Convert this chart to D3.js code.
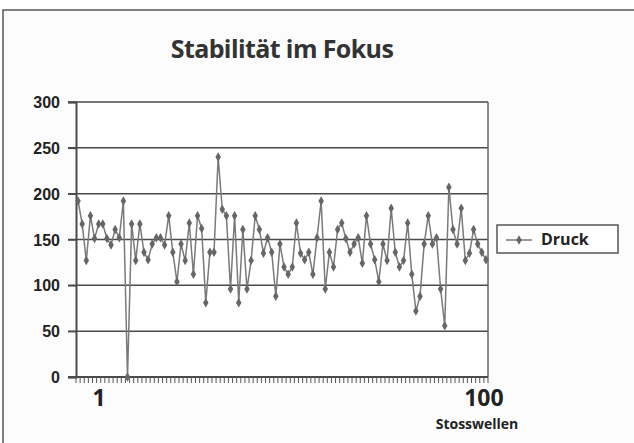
<!DOCTYPE html>
<html>
<head>
<meta charset="utf-8">
<script src="https://cdn.jsdelivr.net/npm/d3@7"></script>
<style>
  body { margin: 0; background: #fff; }
  svg { display: block; font-family: "Open Sans", "Noto Sans", sans-serif; }
</style>
</head>
<body>
<svg id="chart" width="634" height="443"></svg>
<script>
// Druck values, one per Stosswelle (1..100)
const druck = [
  192, 167, 127, 176, 151, 167, 167, 151, 144, 161,
  152, 192, 0, 167, 127, 167, 136, 128, 145, 152,
  152, 144, 176, 136, 104, 145, 127, 168, 112, 176,
  162, 81, 136, 136, 240, 183, 176, 96, 176, 81,
  161, 96, 127, 176, 161, 135, 152, 136, 88, 145,
  120, 112, 120, 168, 135, 128, 136, 112, 152, 192,
  96, 136, 120, 161, 168, 151, 136, 145, 152, 124,
  176, 145, 128, 104, 145, 127, 184, 136, 120, 127,
  168, 112, 72, 88, 145, 176, 145, 152, 96, 56,
  207, 161, 145, 184, 127, 135, 161, 145, 136, 128
];
const categories = druck.map((d, i) => i + 1);
const yTicks = [0, 50, 100, 150, 200, 250, 300];
const xTickLabels = [1, 100];
const seriesName = "Druck";

const svg = d3.select("#chart");
const W = 634, H = 443;
const plot = { left: 76, right: 488, top: 102, bottom: 377 };

// outer frame
svg.append("rect")
  .attr("x", 3).attr("y", 10)
  .attr("width", W + 10).attr("height", H + 10)
  .style("fill", "#fcfcfc")
  .style("stroke", "#555")
  .style("stroke-width", "1.5px");

// title
svg.append("text")
  .attr("x", 282).attr("y", 58)
  .attr("text-anchor", "middle")
  .style("font-size", "25px")
  .style("font-weight", "bold")
  .style("letter-spacing", "-0.6px")
  .style("fill", "#333")
  .text("Stabilität im Fokus");

const x = d3.scalePoint()
  .domain(categories)
  .range([plot.left, plot.right])
  .padding(0.5);
const step = x.step();

const y = d3.scaleLinear()
  .domain([0, 300])
  .range([plot.bottom, plot.top]);

// plot background
svg.append("rect")
  .attr("x", plot.left).attr("y", plot.top)
  .attr("width", plot.right - plot.left)
  .attr("height", plot.bottom - plot.top)
  .style("fill", "#fff");

// gridlines
svg.append("g")
  .selectAll("line")
  .data(yTicks)
  .join("line")
  .attr("x1", plot.left - 8).attr("x2", plot.right)
  .attr("y1", d => y(d)).attr("y2", d => y(d))
  .style("stroke", "#4a4a4a")
  .style("stroke-width", "1.5px");

// right border
svg.append("line")
  .attr("x1", plot.right).attr("x2", plot.right)
  .attr("y1", plot.top).attr("y2", plot.bottom)
  .style("stroke", "#666")
  .style("stroke-width", "1.5px");

// y axis
const yAxis = svg.append("g")
  .attr("transform", `translate(${plot.left},0)`)
  .call(d3.axisLeft(y).tickValues(yTicks).tickSize(8).tickPadding(8));
yAxis.select(".domain").style("stroke", "#4a4a4a").style("stroke-width", "2px");
yAxis.selectAll(".tick line").style("stroke", "#4a4a4a").style("stroke-width", "1.5px");
yAxis.selectAll("text")
  .style("font-size", "16px")
  .style("font-weight", "bold")
  .style("fill", "#222")
  .attr("dy", "0.35em");

// x axis: small ticks at category boundaries
const boundaries = d3.range(categories.length + 1).map(i => plot.left + i * step);
svg.append("line")
  .attr("x1", plot.left - 8).attr("x2", plot.right)
  .attr("y1", plot.bottom).attr("y2", plot.bottom)
  .style("stroke", "#4a4a4a")
  .style("stroke-width", "2px");
svg.append("g")
  .selectAll("line")
  .data(boundaries)
  .join("line")
  .attr("x1", d => d).attr("x2", d => d)
  .attr("y1", plot.bottom).attr("y2", plot.bottom + 6)
  .style("stroke", "#555")
  .style("stroke-width", "1px");

// x tick labels
svg.append("g")
  .selectAll("text")
  .data(xTickLabels)
  .join("text")
  .attr("x", d => d === 1 ? x(d) + 21 : x(d) - 2)
  .attr("y", 406)
  .attr("text-anchor", "middle")
  .style("font-size", "23px")
  .style("font-weight", "bold")
  .style("fill", "#222")
  .text(d => d);

// x axis title
svg.append("text")
  .attr("x", 477).attr("y", 429)
  .attr("text-anchor", "middle")
  .style("font-size", "14px")
  .style("font-weight", "bold")
  .style("fill", "#222")
  .text("Stosswellen");

// series line
const line = d3.line()
  .x((d, i) => x(categories[i]))
  .y(d => y(d));

svg.append("path")
  .datum(druck)
  .attr("d", line)
  .style("fill", "none")
  .style("stroke", "#7a7a7a")
  .style("stroke-width", "1.5px");

const diamond = d3.symbol().type(d3.symbolDiamond).size(26);
svg.append("g")
  .selectAll("path")
  .data(druck)
  .join("path")
  .attr("transform", (d, i) => `translate(${x(categories[i])},${y(d)})`)
  .attr("d", diamond)
  .style("fill", "#666");

// legend
const lg = svg.append("g").attr("transform", "translate(497,225)");
lg.append("rect")
  .attr("width", 121).attr("height", 28)
  .style("fill", "#fff")
  .style("stroke", "#555")
  .style("stroke-width", "1.5px");
lg.append("line")
  .attr("x1", 9).attr("x2", 35)
  .attr("y1", 15).attr("y2", 15)
  .style("stroke", "#7a7a7a")
  .style("stroke-width", "1.5px");
lg.append("path")
  .attr("transform", "translate(22,15)")
  .attr("d", diamond)
  .style("fill", "#666");
lg.append("text")
  .attr("x", 44).attr("y", 20)
  .style("font-size", "16px")
  .style("font-weight", "bold")
  .style("fill", "#222")
  .text(seriesName);
</script>
</body>
</html>
